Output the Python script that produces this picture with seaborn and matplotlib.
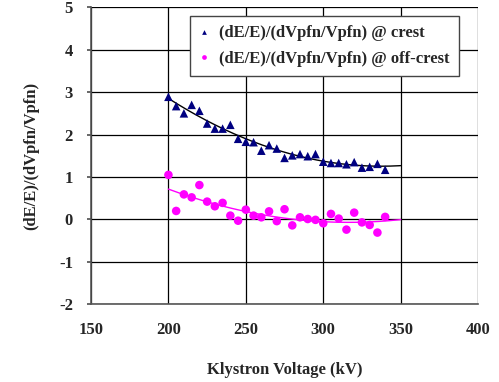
import numpy as np
import pandas as pd
import matplotlib
matplotlib.use("Agg")
import matplotlib.pyplot as plt
import seaborn as sns

# ---- data ----
voltage_kv = [200, 205, 210, 215, 220, 225, 230, 235, 240, 245,
              250, 255, 260, 265, 270, 275, 280, 285, 290, 295,
              300, 305, 310, 315, 320, 325, 330, 335, 340]
crest = [2.89, 2.67, 2.50, 2.70, 2.56, 2.26, 2.14, 2.14, 2.23, 1.90,
         1.83, 1.82, 1.62, 1.75, 1.67, 1.45, 1.51, 1.54, 1.49, 1.54,
         1.36, 1.33, 1.33, 1.30, 1.35, 1.22, 1.24, 1.31, 1.17]
off_crest = [1.05, 0.20, 0.59, 0.52, 0.81, 0.42, 0.31, 0.39, 0.09, -0.03,
             0.23, 0.09, 0.05, 0.19, -0.04, 0.24, -0.14, 0.05, 0.01, -0.01,
             -0.09, 0.13, 0.02, -0.24, 0.16, -0.07, -0.13, -0.31, 0.06]
fit_range = [200, 350]
label_crest = "(dE/E)/(dVpfn/Vpfn) @ crest"
label_off = "(dE/E)/(dVpfn/Vpfn) @ off-crest"
x_ticks = [150, 200, 250, 300, 350, 400]
y_ticks = [-2, -1, 0, 1, 2, 3, 4, 5]

sns.set_theme(style="white")
plt.rcParams['font.family'] = ['Liberation Serif', 'DejaVu Serif']
plt.rcParams['font.weight'] = 'bold'
plt.rcParams['axes.unicode_minus'] = False

df = pd.DataFrame({"V": voltage_kv * 2,
                   "R": crest + off_crest,
                   "series": [label_crest] * len(crest) + [label_off] * len(off_crest)})

# polynomial trendlines (like spreadsheet trendlines)
xf = np.linspace(fit_range[0], fit_range[1], 200)
pc = np.polyfit(voltage_kv, crest, 2)
po = np.polyfit(voltage_kv, off_crest, 2)
fit_c = pd.DataFrame({"V": xf, "R": np.polyval(pc, xf)})
fit_o = pd.DataFrame({"V": xf, "R": np.polyval(po, xf)})

fig = plt.figure(figsize=(4.99, 3.82), dpi=100)
ax = fig.add_axes([0.1824, 0.2034, 0.958 - 0.1824, 0.981 - 0.2034])

sns.lineplot(data=fit_c, x="V", y="R", ax=ax, color="black", lw=1.0, legend=False)
sns.lineplot(data=fit_o, x="V", y="R", ax=ax, color="#FF00FF", lw=1.0, legend=False)

sns.scatterplot(data=df, x="V", y="R", hue="series", style="series",
                palette={label_crest: "#000080", label_off: "#FF00FF"},
                markers={label_crest: "^", label_off: "o"},
                s=38, edgecolor="none", ax=ax, zorder=3)

ax.set_xlim(150, 400)
ax.set_ylim(-2, 5)
ax.set_xticks(x_ticks)
ax.set_yticks(y_ticks)
ax.grid(True, color="black", lw=0.9)
ax.set_axisbelow(True)
for side in ["top", "right"]:
    ax.spines[side].set_visible(False)
for side in ["left", "bottom"]:
    ax.spines[side].set_color("#555555")
    ax.spines[side].set_linewidth(1.2)
ax.tick_params(axis="y", which="both", left=True, length=3, color="#555555",
               labelsize=12, pad=10)
ax.tick_params(axis="x", which="both", bottom=False, length=0, labelsize=12, pad=13)
for lab in ax.get_xticklabels() + ax.get_yticklabels():
    lab.set_fontweight("bold")

ax.set_xlabel("Klystron Voltage (kV)", fontsize=12, fontweight="bold", labelpad=17)
ax.set_ylabel("(dE/E)/(dVpfn/Vpfn)", fontsize=12, fontweight="bold", labelpad=14)

h, l = ax.get_legend_handles_labels()
leg = ax.legend(h, l, loc="upper right", bbox_to_anchor=(0.95, 0.97),
                frameon=True, fancybox=False, framealpha=1, edgecolor="#444444",
                prop={"size": 12, "weight": "bold", "family": "Liberation Serif"},
                markerscale=0.55, handlelength=0.6, handletextpad=0.6,
                borderpad=0.55, labelspacing=0.55, borderaxespad=0)
leg.get_frame().set_linewidth(1.0)

fig.savefig("out.png", dpi=100)
